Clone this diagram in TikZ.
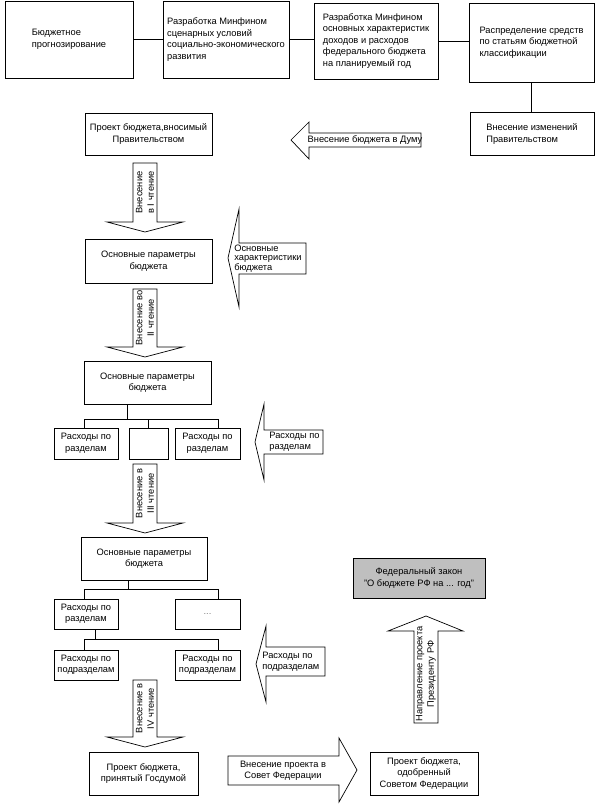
\documentclass[tikz,border=0pt]{standalone}
\usepackage{fontspec}
\setmainfont{Liberation Sans}

\begin{document}
\begin{tikzpicture}[x=1pt,y=-1pt,line width=0.7pt,
	box/.style={rectangle,draw,inner sep=0pt,font=\fontsize{9.3}{11.5}\selectfont},
	block/.style={draw,fill=white,line join=miter},
	arrowtext/.style={inner sep=0pt,font=\fontsize{9.3}{11.5}\selectfont}]
		\useasboundingbox (0,0) rectangle (600,810);
%		\draw[help lines,step=50] (0,0) grid (600,810);
		\path (69,39.5) node(forecast) [box,minimum width=128pt,minimum height=77pt,align=left] {Бюджетное\\прогнозирование};
		\path (226,39.5) node(scenario) [box,minimum width=126pt,minimum height=77pt,align=left] {Разработка Минфином\\сценарных условий\\социально-экономического\\развития};
		\path (376,41) node(mainchar) [box,minimum width=124pt,minimum height=76pt,align=left] {Разработка Минфином\\основных характеристик\\доходов и расходов\\федерального бюджета\\на планируемый год};
		\path (531.5,42.5) node(distrib) [box,minimum width=125pt,minimum height=79pt,align=left] {Распределение средств\\по статьям бюджетной\\классификации};
		\path (532,134) node(changes) [box,minimum width=124pt,minimum height=43pt,align=left] {Внесение изменений\\Правительством};
		\path (148.5,134) node(draft) [box,minimum width=127pt,minimum height=42pt,align=center] {Проект бюджета,вносимый\\Правительством};
		\path (148.5,261) node(params1) [box,minimum width=127pt,minimum height=44pt,align=center] {Основные параметры\\бюджета};
		\path (147.5,382.5) node(params2) [box,minimum width=127pt,minimum height=43pt,align=center] {Основные параметры\\бюджета};
		\path (86,443.5) node(sec_a) [box,minimum width=64pt,minimum height=31pt,align=center] {Расходы по\\разделам};
		\path (148.5,443.5) node(sec_b) [box,minimum width=39pt,minimum height=31pt] {};
		\path (207.5,443.5) node(sec_c) [box,minimum width=65pt,minimum height=31pt,align=center] {Расходы по\\разделам};
		\path (144,558.5) node(params3) [box,minimum width=126pt,minimum height=43pt,align=center] {Основные параметры\\бюджета};
		\path (86,614) node(sec_d) [box,minimum width=64pt,minimum height=30pt,align=center] {Расходы по\\разделам};
		\path (207.5,614) node(dots) [box,minimum width=65pt,minimum height=30pt,text=gray] {...};
		\path (86,665) node(sub_a) [box,minimum width=64pt,minimum height=30pt,align=center] {Расходы по\\подразделам};
		\path (207.5,665) node(sub_b) [box,minimum width=65pt,minimum height=30pt,align=center] {Расходы по\\подразделам};
		\path (143.5,773.5) node(adopted) [box,minimum width=109pt,minimum height=43pt,align=center] {Проект бюджета,\\принятый Госдумой};
		\path (424,773.5) node(approved) [box,minimum width=108pt,minimum height=43pt,align=center] {Проект бюджета,\\одобренный\\Советом Федерации};
		\path (419,578) node(law) [box,minimum width=132pt,minimum height=40pt,align=center,fill=black!25] {Федеральный закон\\"О бюджете РФ на ... год"};

		\draw (forecast) -- (scenario);
		\draw (scenario.east) -- (scenario.east -| mainchar.west);
		\draw (mainchar.east) -- (mainchar.east -| distrib.west);
		\draw (distrib.south) -- (distrib.south |- changes.north);

		\path (127,419) coordinate (fork1);
		\path (84,419) coordinate (fork1_l);
		\path (218,419) coordinate (fork1_r);
		\draw (params2.south -| fork1) -- (fork1);
		\draw (fork1_l) -- (fork1_r);
		\draw (fork1_l) -- (fork1_l |- sec_a.north);
		\draw (sec_b.north) -- (sec_b.north |- fork1);
		\draw (fork1_r) -- (fork1_r |- sec_c.north);
		\path (128,589) coordinate (fork2);
		\path (84,589) coordinate (fork2_l);
		\path (218,589) coordinate (fork2_r);
		\draw (params3.south -| fork2) -- (fork2);
		\draw (fork2_l) -- (fork2_r);
		\draw (fork2_l) -- (fork2_l |- sec_d.north);
		\draw (fork2_r) -- (fork2_r |- dots.north);
		\path (95,639) coordinate (fork3);
		\path (84,639) coordinate (fork3_l);
		\path (218,639) coordinate (fork3_r);
		\draw (sec_d.south -| fork3) -- (fork3);
		\draw (fork3_l) -- (fork3_r);
		\draw (fork3_l) -- (fork3_l |- sub_a.north);
		\draw (fork3_r) -- (fork3_r |- sub_b.north);

		% block arrows
		\draw[block] (421,133) -- (309,133) -- (309,122) -- (291,140) -- (309,159) -- (309,147) -- (421,147) -- cycle;
		\path (365,140) node(to_duma) [arrowtext] {Внесение бюджета в Думу};
		\draw[block] (133,163) -- (157,163) -- (157,222) -- (183,222) -- (145,232) -- (107,222) -- (133,222) -- cycle;
		\path (145,192.5) node(read1) [arrowtext,rotate=90,align=center] {Внесение\\в I чтение};
		\draw[block] (306,243) -- (239,243) -- (239,209) -- (228,258) -- (239,307) -- (239,274) -- (306,274) -- cycle;
		\path (234,258.5) node(mainparams) [arrowtext,anchor=west,align=left,font=\fontsize{9.3}{9.5}\selectfont] {Основные\\характеристики\\бюджета};
		\draw[block] (133,289) -- (157,289) -- (157,347) -- (183,347) -- (145,357) -- (107,347) -- (133,347) -- cycle;
		\path (145,318) node(read2) [arrowtext,rotate=90,align=center] {Внесение во\\II чтение};
		\draw[block] (323,430) -- (264,430) -- (264,404) -- (255,442) -- (264,480) -- (264,454) -- (323,454) -- cycle;
		\path (269,442) node(sections) [arrowtext,anchor=west,align=left] {Расходы по\\разделам};
		\draw[block] (133,464) -- (157,464) -- (157,523) -- (183,523) -- (145,533) -- (107,523) -- (133,523) -- cycle;
		\path (145,493.5) node(read3) [arrowtext,rotate=90,align=center] {Внесение в\\III чтение};
		\draw[block] (325,647) -- (266,647) -- (266,626) -- (256,664) -- (266,702) -- (266,676) -- (325,676) -- cycle;
		\path (262,662) node(subsections) [arrowtext,anchor=west,align=left] {Расходы по\\подразделам};
		\draw[block] (133,680) -- (157,680) -- (157,737) -- (183,737) -- (145,747) -- (107,737) -- (133,737) -- cycle;
		\path (145,708.5) node(read4) [arrowtext,rotate=90,align=center] {Внесение в\\IV чтение};
		\draw[block] (228,756) -- (339,756) -- (339,738) -- (357,770) -- (339,802) -- (339,785) -- (228,785) -- cycle;
		\path (283,771) node(to_council) [arrowtext,align=center] {Внесение проекта в\\Совет Федерации};
		\draw[block] (414,723) -- (414,631) -- (388,631) -- (426,616) -- (463,631) -- (438,631) -- (438,723) -- cycle;
		\path (426,674) node(to_president) [arrowtext,rotate=90,align=center] {Направление проекта\\Президенту РФ};
	\end{tikzpicture}
\end{document}
